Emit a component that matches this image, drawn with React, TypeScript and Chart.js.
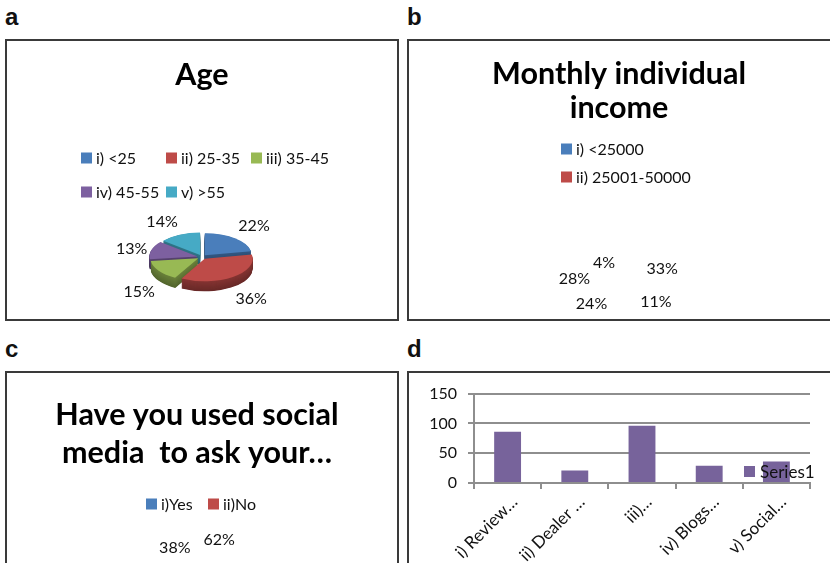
import React, { useEffect, useRef } from "react";
import { Chart, registerables } from "chart.js";

Chart.register(...registerables);

// ---------- data ----------
const ageLabels = ["i) <25", "ii) 25-35", "iii) 35-45", "iv) 45-55", "v) >55"];
const ageValues = [22, 36, 15, 13, 14];

const incomeLabels = ["i) <25000", "ii) 25001-50000", "iii)", "iv)", "v)"];
const incomeValues = [33, 11, 24, 28, 4];

const socialLabels = ["i)Yes", "ii)No"];
const socialValues = [38, 62];

const sourceLabels = ["i) Review…", "ii) Dealer …", "iii)…", "iv) Blogs…", "v) Social…"];
const sourceValues = [86, 21, 96, 29, 36];
const sourceTicks = [0, 50, 100, 150];

const pieColors = ["#4A7EBB", "#BE4B48", "#98B954", "#7D60A0", "#46AAC5"];
const barColor = "#77639B";
const textColor = "#111";
const FONT = "Lato";

// ---------- helpers ----------
function shade(hex: string, f: number) {
  const n = parseInt(hex.slice(1), 16);
  const r = Math.round(((n >> 16) & 255) * f);
  const g = Math.round(((n >> 8) & 255) * f);
  const b = Math.round((n & 255) * f);
  return `rgb(${r},${g},${b})`;
}

// squashes a pie into a tilted 3-D disc with a darker side
const tiltPlugin: any = {
  id: "tilt3d",
  beforeDatasetsDraw(chart: any, _a: any, opts: any) {
    if (!opts || !opts.enabled) return;
    const meta = chart.getDatasetMeta(0);
    const arcs = meta.data;
    if (!arcs.length) return;
    const ctx = chart.ctx;
    const cx = arcs[0].x;
    const cy = arcs[0].y;
    const k = opts.k;
    ctx.save();
    ctx.translate(cx, cy);
    ctx.scale(1, k);
    ctx.translate(-cx, -cy);
    const colors = chart.data.datasets[0].backgroundColor;
    for (let d = opts.depth; d >= 0.5; d -= 0.5) {
      arcs.forEach((arc: any, i: number) => {
        const { startAngle, endAngle, outerRadius, circumference } = arc.getProps(
          ["startAngle", "endAngle", "outerRadius", "circumference"],
          true
        );
        const off = (arc.options.offset || 0) / 4;
        const fix = 1 - Math.sin(Math.min(Math.PI, circumference || 0));
        const mid = (startAngle + endAngle) / 2;
        const x = cx + Math.cos(mid) * off;
        const y = cy + Math.sin(mid) * off + d / k;
        ctx.beginPath();
        ctx.moveTo(x, y);
        ctx.arc(x, y, outerRadius + off * fix, startAngle, endAngle);
        ctx.closePath();
        ctx.fillStyle = shade(colors[i], 0.55 + 0.15 * (1 - d / opts.depth));
        ctx.fill();
      });
    }
  },
  afterDatasetsDraw(chart: any, _a: any, opts: any) {
    if (opts && opts.enabled) chart.ctx.restore();
  },
};

// percentage labels placed outside the slices
const pctPlugin: any = {
  id: "pctLabels",
  afterDraw(chart: any, _a: any, opts: any) {
    const meta = chart.getDatasetMeta(0);
    const values: number[] = chart.data.datasets[0].data;
    const total = values.reduce((s, v) => s + v, 0);
    const ctx = chart.ctx;
    const th = opts.vThreshold ?? 0.5;
    ctx.save();
    ctx.font = `${opts.size || 16}px ${FONT}`;
    ctx.fillStyle = textColor;
    meta.data.forEach((arc: any, i: number) => {
      const { x, y, startAngle, endAngle, outerRadius } = arc.getProps(
        ["x", "y", "startAngle", "endAngle", "outerRadius"],
        true
      );
      const mid = (startAngle + endAngle) / 2;
      const c = Math.cos(mid);
      const s = Math.sin(mid);
      const ax = x + c * (outerRadius + opts.gapX);
      const ay = y + s * (outerRadius * opts.k + opts.gapY) + (s > 0 ? opts.depth : 0);
      ctx.textAlign = c > 0.1 ? "left" : c < -0.1 ? "right" : "center";
      ctx.textBaseline = s > th ? "top" : s < -th ? "bottom" : "middle";
      ctx.fillText(Math.round((values[i] / total) * 100) + "%", ax, ay);
    });
    ctx.restore();
  },
};

// Excel-like legend laid out on a fixed grid
const gridLegend: any = {
  id: "gridLegend",
  afterDraw(chart: any, _a: any, opts: any) {
    if (!opts || opts.x === undefined) return;
    const ctx = chart.ctx;
    const items = opts.fromDatasets
      ? chart.data.datasets.map((d: any) => ({ text: d.label, color: d.backgroundColor }))
      : chart.data.labels.map((l: string, i: number) => ({
          text: l,
          color: chart.data.datasets[0].backgroundColor[i],
        }));
    const n = Math.min(opts.count ?? items.length, items.length);
    const box = opts.box || 11;
    ctx.save();
    ctx.font = `${opts.size || 16}px ${FONT}`;
    ctx.textAlign = "left";
    ctx.textBaseline = "middle";
    for (let i = 0; i < n; i++) {
      const col = i % (opts.cols || 1);
      const row = Math.floor(i / (opts.cols || 1));
      const bx = opts.x + col * (opts.colW || 0);
      const by = opts.y + row * (opts.rowH || 0);
      ctx.fillStyle = items[i].color;
      ctx.fillRect(bx, by - box / 2, box, box);
      ctx.fillStyle = textColor;
      ctx.fillText(items[i].text, bx + box + (opts.gap ?? 4), by + 1);
    }
    ctx.restore();
  },
};

const TITLE_SIZE = 30.5;
const titleFont = (lh: number) => ({ family: FONT, weight: "bold" as const, size: TITLE_SIZE, lineHeight: lh });

// ---------- configs ----------
function ageConfig(): any {
  return {
    type: "pie",
    data: {
      labels: ageLabels,
      datasets: [{ data: ageValues, backgroundColor: pieColors, borderWidth: 0, offset: 18, radius: 47 }],
    },
    plugins: [tiltPlugin, pctPlugin, gridLegend],
    options: {
      animation: false,
      responsive: false,
      events: [],
      layout: { padding: { top: 0, bottom: 16, left: 0, right: 0 } },
      plugins: {
        legend: { display: false },
        tooltip: { enabled: false },
        title: {
          display: true,
          text: "Age",
          color: "#000",
          font: titleFont(1.2),
          padding: { top: 15.7, bottom: 117.7 },
        },
        tilt3d: { enabled: true, k: 0.47, depth: 10 },
        pctLabels: { gapX: 10, gapY: 8, k: 0.47, depth: 10, size: 16 },
        gridLegend: { x: 74, y: 117, cols: 3, colW: 85, rowH: 34, size: 16 },
      },
    },
  };
}

function incomeConfig(): any {
  return {
    type: "pie",
    data: {
      labels: incomeLabels,
      datasets: [{ data: incomeValues, backgroundColor: pieColors, borderWidth: 0, radius: 0 }],
    },
    plugins: [pctPlugin, gridLegend],
    options: {
      animation: false,
      responsive: false,
      events: [],
      layout: { padding: { top: 0, bottom: 25, left: 0, right: 6 } },
      plugins: {
        legend: { display: false },
        tooltip: { enabled: false },
        title: {
          display: true,
          text: ["Monthly individual", "income"],
          color: "#000",
          font: titleFont(1.1),
          padding: { top: 16.7, bottom: 149 },
        },
        pctLabels: { gapX: 32, gapY: 13, k: 1, depth: 0, size: 16, vThreshold: 0.5 },
        gridLegend: { x: 152, y: 108, cols: 1, rowH: 28, count: 2, size: 16 },
      },
    },
  };
}

function socialConfig(): any {
  return {
    type: "pie",
    data: {
      labels: socialLabels,
      datasets: [{ data: socialValues, backgroundColor: pieColors, borderWidth: 0, radius: 0, rotation: 180 }],
    },
    plugins: [pctPlugin, gridLegend],
    options: {
      animation: false,
      responsive: false,
      events: [],
      layout: { padding: { top: 0, bottom: 65, left: 0, right: 10 } },
      plugins: {
        legend: { display: false },
        tooltip: { enabled: false },
        title: {
          display: true,
          text: ["Have you used social", "media  to ask your…"],
          color: "#000",
          font: titleFont(1.246),
          padding: { top: 23.5, bottom: 61.5 },
        },
        pctLabels: { gapX: 7, gapY: 10, k: 1, depth: 0, size: 16 },
        gridLegend: { x: 139, y: 131, cols: 2, colW: 62, size: 16 },
      },
    },
  };
}

function sourceConfig(): any {
  const gridColor = "#8e8e8e";
  return {
    type: "bar",
    data: {
      labels: sourceLabels,
      datasets: [
        {
          label: "Series1",
          data: sourceValues,
          backgroundColor: barColor,
          barPercentage: 0.4,
          categoryPercentage: 1,
        },
      ],
    },
    plugins: [gridLegend],
    options: {
      animation: false,
      responsive: false,
      events: [],
      layout: { padding: { top: 16, right: 25, left: 0, bottom: 0 } },
      scales: {
        x: {
          afterFit: (s: any) => {
            s.height = 136;
          },
          grid: {
            display: true,
            drawOnChartArea: false,
            drawTicks: true,
            tickLength: 6,
            offset: true,
            color: gridColor,
            lineWidth: 2,
          },
          border: { display: true, color: gridColor, width: 2 },
          ticks: {
            autoSkip: false,
            maxRotation: 45,
            minRotation: 45,
            padding: 3,
            labelOffset: 7,
            color: textColor,
            font: { family: FONT, size: 17 },
          },
        },
        y: {
          min: 0,
          max: 150,
          afterFit: (s: any) => {
            s.width = 65;
          },
          afterBuildTicks: (s: any) => {
            s.ticks = sourceTicks.map((v) => ({ value: v }));
          },
          grid: { color: gridColor, lineWidth: 2, tickLength: 6, drawTicks: true },
          border: { display: true, color: gridColor, width: 2 },
          ticks: { padding: 11, color: textColor, font: { family: FONT, size: 16 } },
        },
      },
      plugins: {
        legend: { display: false },
        tooltip: { enabled: false },
        title: { display: false },
        gridLegend: { x: 335, y: 98.5, fromDatasets: true, size: 17, gap: 5 },
      },
    },
  };
}

// ---------- components ----------
function ChartCanvas({ make, width, height }: { make: () => any; width: number; height: number }) {
  const ref = useRef<HTMLCanvasElement | null>(null);
  useEffect(() => {
    const chart = new Chart(ref.current as HTMLCanvasElement, make());
    return () => chart.destroy();
  }, []);
  return <canvas ref={ref} width={width} height={height} style={{ display: "block", width, height }} />;
}

function Panel({
  letter,
  left,
  top,
  width,
  height,
  make,
}: {
  letter: string;
  left: number;
  top: number;
  width: number;
  height: number;
  make: () => any;
}) {
  return (
    <>
      <div
        style={{
          position: "absolute",
          left: left,
          top: top - 34,
          font: "bold 24px 'Liberation Sans', Arial, sans-serif",
          lineHeight: "24px",
          color: "#111",
        }}
      >
        {letter}
      </div>
      <div
        style={{
          position: "absolute",
          left,
          top,
          width,
          height,
          border: "2px solid #3a3a3a",
          boxSizing: "border-box",
          background: "#fff",
          overflow: "hidden",
        }}
      >
        <ChartCanvas make={make} width={width - 4} height={height - 4} />
      </div>
    </>
  );
}

export default function App() {
  return (
    <div
      style={{
        position: "absolute",
        left: 0,
        top: 0,
        width: 830,
        height: 563,
        overflow: "hidden",
        background: "#fff",
      }}
    >
      <Panel letter="a" left={5} top={39} width={394} height={282} make={ageConfig} />
      <Panel letter="b" left={407} top={39} width={430} height={282} make={incomeConfig} />
      <Panel letter="c" left={5} top={371} width={394} height={250} make={socialConfig} />
      <Panel letter="d" left={407} top={371} width={430} height={250} make={sourceConfig} />
    </div>
  );
}
